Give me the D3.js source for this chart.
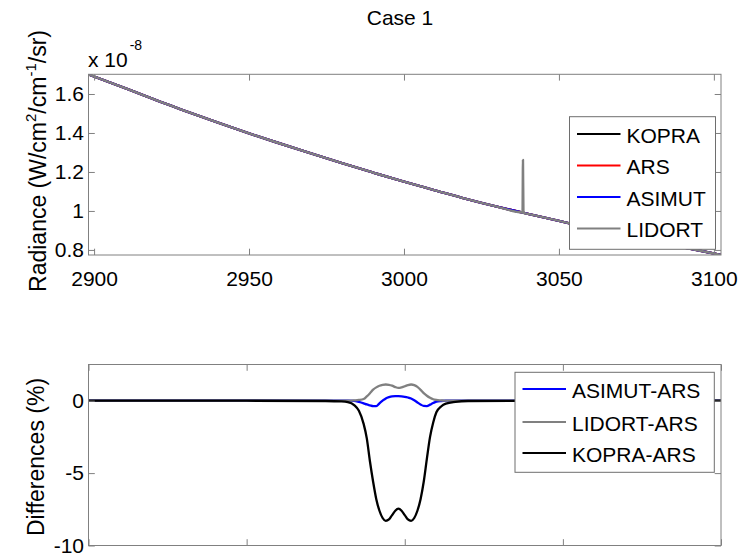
<!DOCTYPE html>
<html>
<head>
<meta charset="utf-8">
<script src="https://cdn.jsdelivr.net/npm/d3@7"></script>
<style>
  html, body { margin: 0; padding: 0; background: #fff; }
  svg { display: block; }
  text { font-family: "Liberation Sans", Arial, Helvetica, sans-serif; fill: #000; }
</style>
</head>
<body>
<svg id="chart" width="742" height="556"></svg>
<script>
// ---------------- DATA ----------------
const titleText = "Case 1";

// Top panel: radiance (units of 1e-8 W/cm2/cm-1/sr)
const radianceWn = [2898.2, 2910, 2920, 2930, 2940, 2950, 2960, 2970, 2980, 2990, 3000,
                    3010, 3020, 3030, 3038.4, 3040, 3050, 3060, 3070, 3080, 3090, 3102.3];
const radianceModel = [1.700, 1.630, 1.568, 1.510, 1.453, 1.398, 1.346, 1.295, 1.245, 1.197, 1.150,
                       1.106, 1.062, 1.022, 0.991, 0.985, 0.949, 0.912, 0.877, 0.843, 0.814, 0.774];
// narrow spike that only appears in the LIDORT spectrum
const lidortSpikeWn  = [3038.25, 3038.4, 3038.55];
const lidortSpikeVal = [0.992, 1.262, 0.990];

const topSeriesNames  = ["KOPRA", "ARS", "ASIMUT", "LIDORT"];
const topSeriesColors = ["#000000", "#ff0000", "#0000ff", "#808080"];

const topXTicks = [2900, 2950, 3000, 3050, 3100];
const topYTicks = [0.8, 1.0, 1.2, 1.4, 1.6];
const topYTickLabels = ["0.8", "1", "1.2", "1.4", "1.6"];

// Bottom panel: differences (%)
const diffWn = [2900, 2950, 2975, 2980, 2982, 2984, 2985.5, 2987, 2988, 2989, 2990, 2991, 2992, 2993,
                2994, 2995, 2996, 2997, 2998, 2999, 3000, 3001, 3002, 3003, 3004, 3005, 3006, 3007,
                3008, 3009, 3010, 3011.5, 3013, 3016, 3020, 3050, 3100];
const diffAsimutArs = [0, 0, 0, 0, 0, -0.01, -0.08, -0.18, -0.26, -0.32, -0.38, -0.38, -0.18, 0.0,
                       0.16, 0.25, 0.30, 0.31, 0.31, 0.30, 0.27, 0.22, 0.15, 0.03, -0.12, -0.26, -0.36, -0.37,
                       -0.27, -0.16, -0.07, -0.02, 0, 0, 0, 0, 0];
const diffLidortArs = [0, 0, 0, 0, 0, 0.02, 0.05, 0.12, 0.30, 0.52, 0.76, 0.92, 1.03, 1.09,
                       1.12, 1.10, 1.04, 0.94, 0.88, 0.92, 1.00, 1.08, 1.12, 1.08, 0.96, 0.75, 0.52, 0.34,
                       0.20, 0.10, 0.05, 0.02, 0, 0, 0, 0, 0];
const diffKopraArs  = [0, 0, -0.02, -0.05, -0.1, -0.3, -0.7, -1.6, -2.6, -4.2, -5.6, -6.8, -7.6, -8.1,
                       -8.3, -8.2, -7.9, -7.6, -7.46, -7.6, -7.9, -8.2, -8.3, -8.1, -7.6, -6.8, -5.6, -4.0,
                       -2.5, -1.5, -0.8, -0.4, -0.2, -0.08, -0.02, 0, 0];
const botSeriesNames  = ["ASIMUT-ARS", "LIDORT-ARS", "KOPRA-ARS"];
const botSeriesColors = ["#0000ff", "#808080", "#000000"];

const botXTicks = [2900, 2950, 3000, 3050, 3100];
const botYTicks = [-10, -5, 0];
const botYTickLabels = ["-10", "-5", "0"];

// ---------------- DRAW ----------------
const svg = d3.select("#chart");
const FONT = 21;
const TICK = 6.3;
const AXIS_COLOR = "#808080";

function drawAxesFrame(g, x, y, xTicks, yTicks, yLabels, showXLabels) {
  const [x0, x1] = x.range();
  const [y0, y1] = y.range(); // y0 bottom, y1 top
  const ab = d3.axisBottom(x).tickValues(xTicks).tickSize(-TICK).tickSizeOuter(0).tickPadding(16)
    .tickFormat(showXLabels ? d3.format("d") : () => "");
  const gb = g.append("g").attr("transform", `translate(0,${y0})`).call(ab);
  const at = d3.axisTop(x).tickValues(xTicks).tickSize(-TICK).tickSizeOuter(0).tickFormat(() => "");
  const gt = g.append("g").attr("transform", `translate(0,${y1})`).call(at);
  const al = d3.axisLeft(y).tickValues(yTicks).tickSize(-TICK).tickSizeOuter(0).tickPadding(4.5)
    .tickFormat((d, i) => yLabels[i]);
  const gl = g.append("g").attr("transform", `translate(${x0},0)`).call(al);
  const ar = d3.axisRight(y).tickValues(yTicks).tickSize(-TICK).tickSizeOuter(0).tickFormat(() => "");
  const gr = g.append("g").attr("transform", `translate(${x1},0)`).call(ar);

  [gb, gt, gl, gr].forEach(a => {
    a.select(".domain").remove();
    a.selectAll(".tick line").attr("stroke", AXIS_COLOR).attr("stroke-width", 1);
    a.selectAll(".tick text").attr("font-size", FONT).attr("fill", "#000")
      .style("font-family", "'Liberation Sans', Arial, Helvetica, sans-serif");
    a.selectAll(".tick text").filter(function () { return this.textContent === ""; }).remove();
  });
  g.append("rect")
    .attr("x", x0).attr("y", y1).attr("width", x1 - x0).attr("height", y0 - y1)
    .attr("fill", "none").attr("stroke", AXIS_COLOR).attr("stroke-width", 1);
}

function drawLegend(g, x, y, w, h, names, colors, rowY) {
  g.append("rect").attr("x", x).attr("y", y).attr("width", w).attr("height", h)
    .attr("fill", "#fff").attr("stroke", "#6e6e6e").attr("stroke-width", 1);
  names.forEach((n, i) => {
    const ly = rowY[i];
    g.append("line").attr("x1", x + 7.5).attr("x2", x + 51).attr("y1", ly).attr("y2", ly)
      .attr("stroke", colors[i]).attr("stroke-width", 2);
    g.append("text").attr("x", x + 57).attr("y", ly + 8.5).attr("font-size", FONT).text(n);
  });
}

// ---- Top panel ----
const xTop = d3.scaleLinear().domain([2898.2, 3102.3]).range([88.5, 721]);
const yTop = d3.scaleLinear().domain([0.774, 1.701]).range([255, 74.3]);
const gTop = svg.append("g");

const lineTop = d3.line().x(d => xTop(d[0])).y(d => yTop(d[1])).curve(d3.curveMonotoneX);
const baseSeries = radianceWn.map((w, i) => [w, radianceModel[i]]);
const lidortSeries = baseSeries.filter(d => d[0] !== 3038.4)
  .concat(lidortSpikeWn.map((w, i) => [w, lidortSpikeVal[i]]))
  .sort((a, b) => a[0] - b[0]);
const topData = [baseSeries, baseSeries, baseSeries, lidortSeries];

gTop.append("defs").append("clipPath").attr("id", "clipTop").append("rect")
  .attr("x", 88.5).attr("y", 74.3).attr("width", 721 - 88.5).attr("height", 255 - 74.3);
const gTopLines = gTop.append("g").attr("clip-path", "url(#clipTop)");
topData.forEach((s, i) => {
  gTopLines.append("path").attr("d", lineTop(s))
    .attr("fill", "none").attr("stroke", topSeriesColors[i]).attr("stroke-width", 2.4)
    .attr("stroke-linejoin", "round");
});
drawAxesFrame(gTop, xTop, yTop, topXTicks, topYTicks, topYTickLabels, true);
drawLegend(gTop, 569.5, 116.7, 146, 132.6, topSeriesNames, topSeriesColors, [134, 165.5, 197, 228.5]);

// exponent label
const expo = gTop.append("text").attr("x", 88).attr("y", 66.7).attr("font-size", FONT);
expo.append("tspan").text("x 10");
expo.append("tspan").attr("font-size", 14).attr("dy", -17).attr("dx", 2).text("-8");

// title
svg.append("text").attr("x", 400).attr("y", 25).attr("text-anchor", "middle")
  .attr("font-size", FONT).text(titleText);

// y label top
const yl = svg.append("text").attr("transform", "translate(46,161) rotate(-90)")
  .attr("text-anchor", "middle").attr("font-size", 23);
yl.append("tspan").text("Radiance (W/cm");
yl.append("tspan").attr("font-size", 15).attr("dy", -10).text("2");
yl.append("tspan").attr("dy", 10).text("/cm");
yl.append("tspan").attr("font-size", 15).attr("dy", -10).text("-1");
yl.append("tspan").attr("dy", 10).text("/sr)");

// ---- Bottom panel ----
const xBot = d3.scaleLinear().domain([2900, 3100]).range([88.5, 721]);
const yBot = d3.scaleLinear().domain([-10, 2.5]).range([545.5, 364.5]);
const gBot = svg.append("g");
const lineBot = d3.line().x(d => xBot(d[0])).y(d => yBot(d[1])).curve(d3.curveMonotoneX);
const botData = [diffAsimutArs, diffLidortArs, diffKopraArs].map(arr => diffWn.map((w, i) => [w, arr[i]]));
botData.forEach((s, i) => {
  gBot.append("path").attr("d", lineBot(s))
    .attr("fill", "none").attr("stroke", botSeriesColors[i]).attr("stroke-width", 2.3)
    .attr("stroke-linejoin", "round");
});
drawAxesFrame(gBot, xBot, yBot, botXTicks, botYTicks, botYTickLabels, false);
drawLegend(gBot, 515, 372.3, 199.3, 100, botSeriesNames, botSeriesColors, [389, 422, 453]);

svg.append("text").attr("transform", "translate(43.5,457) rotate(-90)")
  .attr("text-anchor", "middle").attr("font-size", 23).text("Differences (%)");
</script>
</body>
</html>
